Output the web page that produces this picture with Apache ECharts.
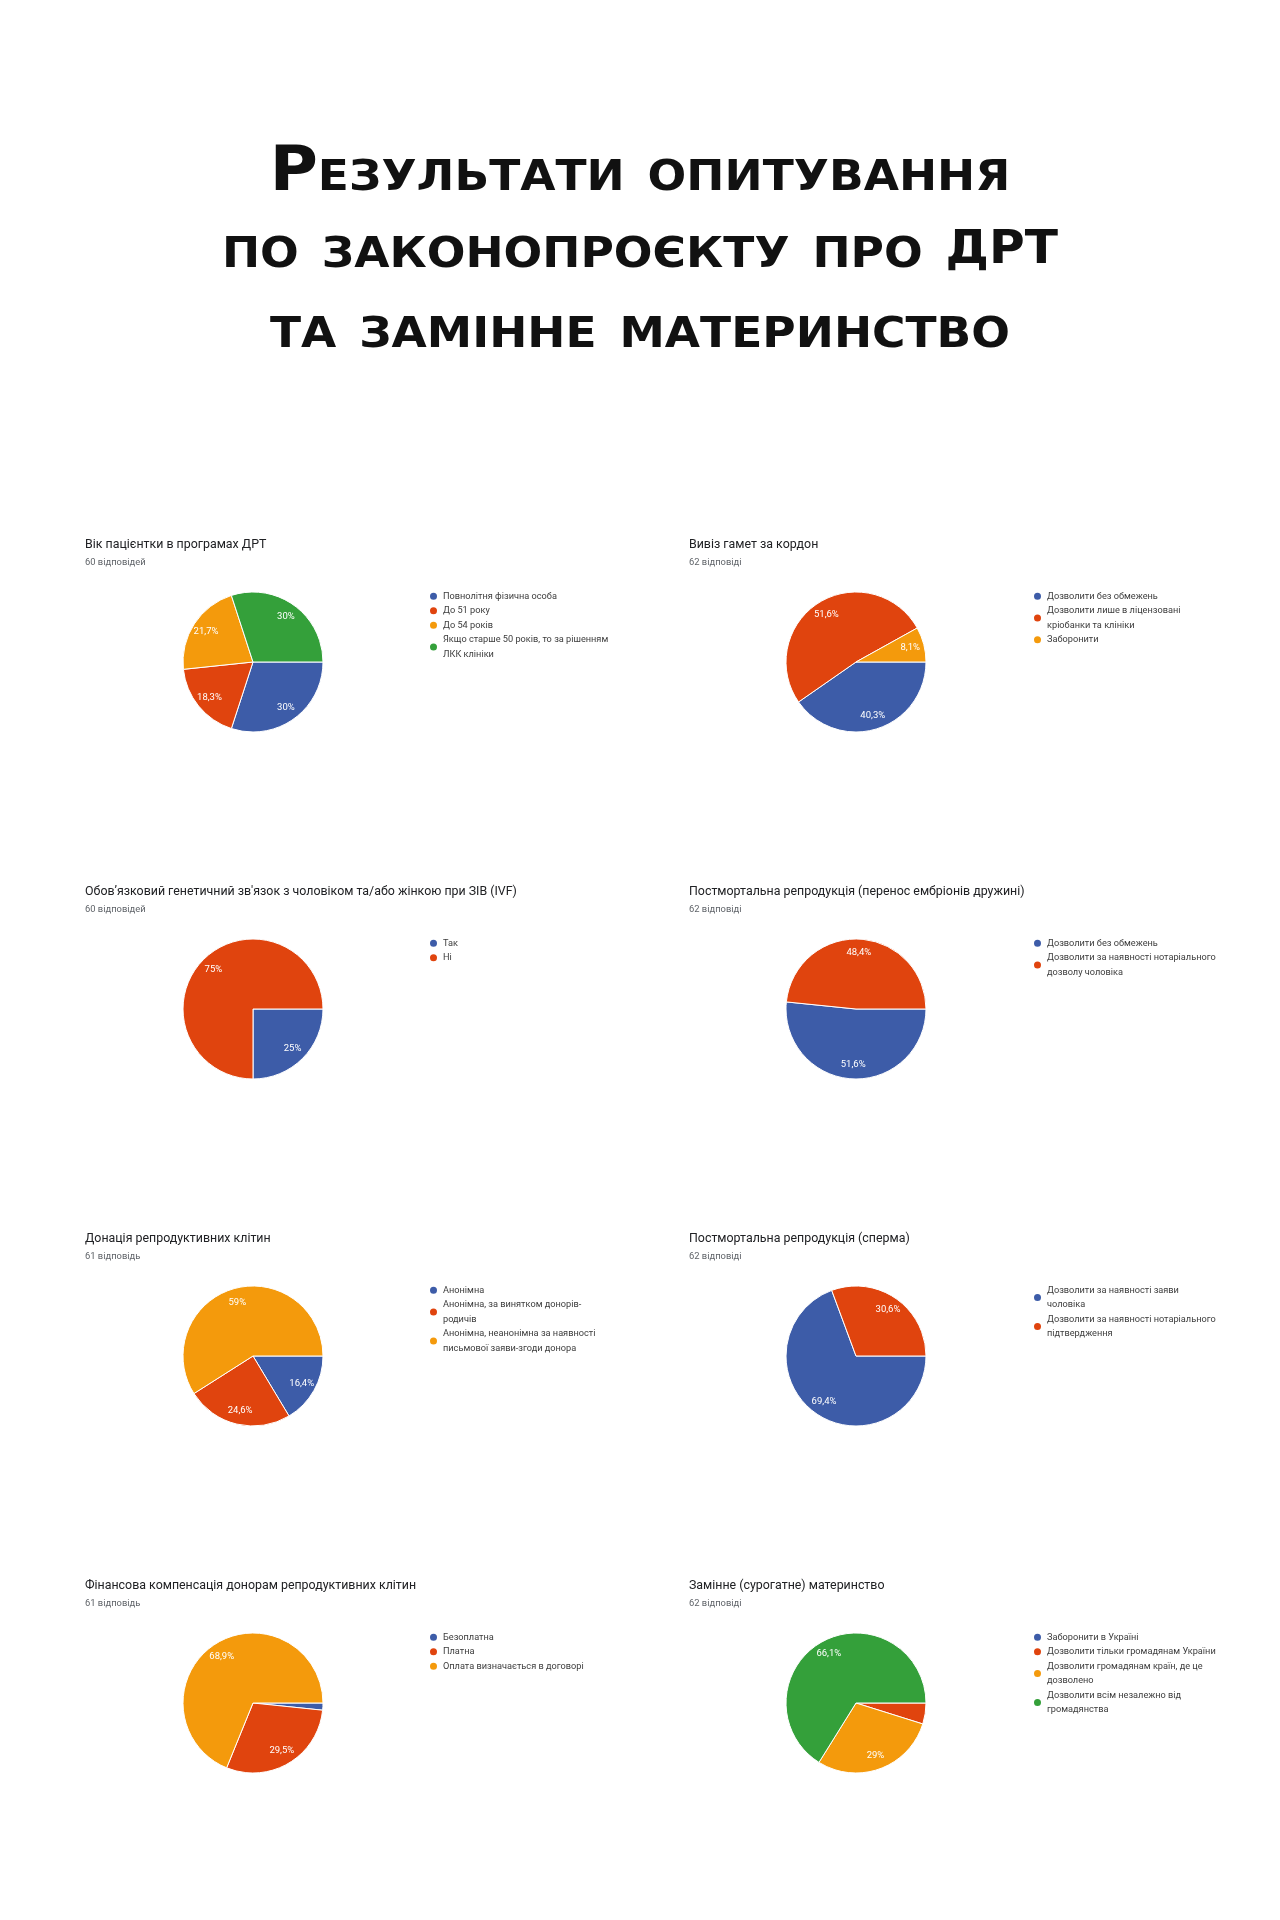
<!DOCTYPE html>
<html>
<head>
<meta charset="utf-8">
<script src="https://cdn.jsdelivr.net/npm/echarts@6/dist/echarts.min.js"></script>
<style>
html, body { margin: 0; padding: 0; background: #fff; }
#main { width: 1280px; height: 1920px; }
</style>
</head>
<body>
<div id="main"></div>
<script>
'use strict';

// заголовок сторінки
const headLines = ['Результати опитування', 'по законопроєкту про ДРТ', 'та замінне материнство'];

// 1. вік пацієнтки
const ageTitle = 'Вік пацієнтки в програмах ДРТ';
const ageTotal = '60 відповідей';
const ageNames = ['Повнолітня фізична особа', 'До 51 року', 'До 54 років', 'Якщо старше 50 років, то за рішенням ЛКК клініки'];
const ageCounts = [18, 11, 13, 18];

// 2. вивіз гамет
const exportTitle = 'Вивіз гамет за кордон';
const exportTotal = '62 відповіді';
const exportNames = ['Дозволити без обмежень', 'Дозволити лише в ліцензовані кріобанки та клініки', 'Заборонити'];
const exportCounts = [25, 32, 5];

// 3. генетичний зв'язок
const geneTitle = 'Обов\u2019язковий генетичний зв\'язок з чоловіком та/або жінкою при ЗІВ (IVF)';
const geneTotal = '60 відповідей';
const geneNames = ['Так', 'Ні'];
const geneCounts = [15, 45];

// 4. постмортальна (ембріони)
const embryoTitle = 'Постмортальна репродукція (перенос ембріонів дружині)';
const embryoTotal = '62 відповіді';
const embryoNames = ['Дозволити без обмежень', 'Дозволити за наявності нотаріального дозволу чоловіка'];
const embryoCounts = [32, 30];

// 5. донація
const donorTitle = 'Донація репродуктивних клітин';
const donorTotal = '61 відповідь';
const donorNames = ['Анонімна', 'Анонімна, за винятком донорів-родичів', 'Анонімна, неанонімна за наявності письмової заяви-згоди донора'];
const donorCounts = [10, 15, 36];

// 6. постмортальна (сперма)
const spermTitle = 'Постмортальна репродукція (сперма)';
const spermTotal = '62 відповіді';
const spermNames = ['Дозволити за наявності заяви чоловіка', 'Дозволити за наявності нотаріального підтвердження'];
const spermCounts = [43, 19];

// 7. компенсація
const payTitle = 'Фінансова компенсація донорам репродуктивних клітин';
const payTotal = '61 відповідь';
const payNames = ['Безоплатна', 'Платна', 'Оплата визначається в договорі'];
const payCounts = [1, 18, 42];

// 8. сурогатне материнство
const surTitle = 'Замінне (сурогатне) материнство';
const surTotal = '62 відповіді';
const surNames = ['Заборонити в Україні', 'Дозволити тільки громадянам України', 'Дозволити громадянам країн, де це дозволено', 'Дозволити всім незалежно від громадянства'];
const surCounts = [0, 3, 18, 41];

const palette = ['#3d5ca8', '#e0440e', '#f49a0c', '#34a03a'];

const charts = [
    [ageTitle, ageTotal, ageNames, ageCounts],
    [exportTitle, exportTotal, exportNames, exportCounts],
    [geneTitle, geneTotal, geneNames, geneCounts],
    [embryoTitle, embryoTotal, embryoNames, embryoCounts],
    [donorTitle, donorTotal, donorNames, donorCounts],
    [spermTitle, spermTotal, spermNames, spermCounts],
    [payTitle, payTotal, payNames, payCounts],
    [surTitle, surTotal, surNames, surCounts]
];

const legendFont = 9.2;

// перенос рядків легенди по ширині, як у Google Forms
const measureCtx = document.createElement('canvas').getContext('2d');
measureCtx.font = legendFont + 'px Roboto';
function wrapLabel(text, maxWidth) {
    const parts = text.split(/(?<=[ -])/);
    const lines = [];
    let cur = '';
    parts.forEach(function (p) {
        const test = (cur + p).trimEnd();
        if (cur && measureCtx.measureText(test).width > maxWidth) {
            lines.push(cur.trimEnd());
            cur = p;
        } else {
            cur += p;
        }
    });
    if (cur) lines.push(cur.trimEnd());
    return lines.join('\n');
}

const titles = [];
const legends = [];
const series = [];
const graphics = [];

// великий заголовок (капітель)
const headY = [174, 251, 331];
const headStyle = {
    fontFamily: 'DejaVu Sans',
    fontStyle: 'small-caps',
    fontWeight: 'bold',
    fontSize: 62,
    lineHeight: 62,
    fill: '#111'
};
headLines.forEach(function (line, i) {
    // абревіатура ДРТ у референсі набрана тим самим розміром, що й капітель
    const m = line.match(/^(.*?)(ДРТ)$/);
    graphics.push({
        type: 'text',
        x: 640,
        y: headY[i],
        scaleX: 1.06,
        style: Object.assign({}, headStyle, {
            text: m ? '{a|' + m[1] + '}{b|' + m[2] + '}' : line,
            align: 'center',
            verticalAlign: 'middle',
            rich: {
                a: headStyle,
                b: Object.assign({}, headStyle, { fontStyle: 'normal', fontSize: 46 })
            }
        })
    });
});

function pctLabel(p) {
    if (p.percent < 5) return '';
    return String(p.percent).replace('.', ',') + '%';
}

charts.forEach(function (c, i) {
    const col = i % 2;
    const row = Math.floor(i / 2);
    const cx = col === 0 ? 253 : 856;
    const cy = 662 + row * 347;
    const tx = col === 0 ? 85 : 689;
    const lx = col === 0 ? 428 : 1032;
    const names = c[2];
    const counts = c[3];

    titles.push({
        text: c[0],
        subtext: c[1],
        left: tx,
        top: cy - 125,
        padding: 0,
        itemGap: 4,
        textStyle: { fontFamily: 'Roboto', fontSize: 12.4, fontWeight: 'normal', color: '#202124', lineHeight: 16 },
        subtextStyle: { fontFamily: 'Roboto', fontSize: 9.4, color: '#5f6368', lineHeight: 12 }
    });

    legends.push({
        orient: 'vertical',
        left: lx,
        top: cy - 73,
        padding: 0,
        itemGap: 0,
        itemWidth: 9,
        itemHeight: 9,
        icon: 'circle',
        selectedMode: false,
        data: names,
        formatter: function (name) { return wrapLabel(name, 170); },
        textStyle: { fontFamily: 'Roboto', fontSize: legendFont, color: '#3c3c3c', lineHeight: 14.5 }
    });

    series.push({
        type: 'pie',
        center: [cx, cy],
        radius: 70,
        startAngle: 0,
        clockwise: true,
        label: { show: false },
        labelLine: { show: false },
        emphasis: { disabled: true },
        itemStyle: { borderColor: '#fff', borderWidth: 1 },
        data: names.map(function (n, k) {
            return { name: n, value: counts[k], itemStyle: { color: palette[k] } };
        })
    });

    // прозорий шар тільки для підписів відсотків
    series.push({
        type: 'pie',
        center: [cx, cy],
        radius: [36, 70],
        startAngle: 0,
        clockwise: true,
        silent: true,
        percentPrecision: 1,
        avoidLabelOverlap: false,
        emphasis: { disabled: true },
        itemStyle: { color: 'rgba(0,0,0,0)', borderWidth: 0 },
        labelLine: { show: false },
        label: {
            show: true,
            position: 'inside',
            formatter: pctLabel,
            color: '#fff',
            fontFamily: 'Roboto',
            fontSize: 9.5
        },
        data: names.map(function (n, k) {
            return { name: n, value: counts[k] };
        })
    });
});

const chart = echarts.init(document.getElementById('main'));
chart.setOption({
    backgroundColor: '#fff',
    animation: false,
    title: titles,
    legend: legends,
    graphic: graphics,
    series: series
});
</script>
</body>
</html>
